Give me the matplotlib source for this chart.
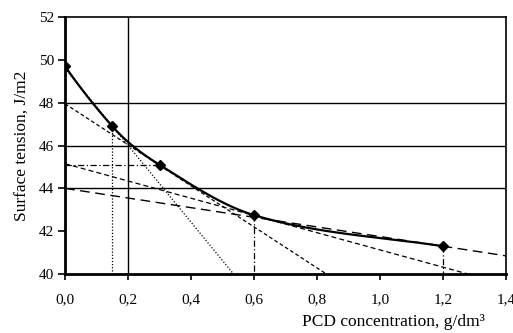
import numpy as np
import matplotlib
matplotlib.use("Agg")
import matplotlib.pyplot as plt

# --- data ---
conc = [0.0, 0.15, 0.30, 0.60, 1.20]          # g/dm3
tension = [49.7, 46.9, 45.1, 42.75, 41.3]     # J/m2
slopes = [-21.0, -16.5, -9.2, -4.4, -2.25]    # curve slope at each point (from tangents)

# tangent / construction lines: (x0, y0, x1, y1)
tan_015 = [0.0, 49.6, 0.535, 40.0]     # dotted
tan_030 = [0.0, 47.95, 0.83, 40.0]     # short dashed
tan_060 = [0.0, 45.15, 1.28, 40.0]     # dashed
tan_120 = [0.0, 44.0, 1.40, 40.85]     # long dashed
hline_030 = [0.0, 45.1, 0.30, 45.1]    # dash-dot horizontal
vline_015 = [0.15, 46.9, 0.15, 40.0]   # dotted vertical
vline_060 = [0.60, 42.75, 0.60, 40.0]  # dash-dot vertical
vline_120 = [1.20, 41.3, 1.20, 40.0]   # dash-dot vertical

xticks = [0.0, 0.2, 0.4, 0.6, 0.8, 1.0, 1.2, 1.4]
xticklabels = ["0,0", "0,2", "0,4", "0,6", "0,8", "1,0", "1,2", "1,4"]
yticks = [40, 42, 44, 46, 48, 50, 52]
hgrid = [44, 46, 48]
vgrid = [0.2]


def hermite(x, y, m, xs):
    x = np.asarray(x, float); y = np.asarray(y, float); m = np.asarray(m, float)
    h = np.diff(x)
    out = np.empty_like(xs)
    for i, xv in enumerate(xs):
        k = int(np.clip(np.searchsorted(x, xv, side="right") - 1, 0, len(x) - 2))
        t = (xv - x[k]) / h[k]
        h00 = 2*t**3 - 3*t**2 + 1; h10 = t**3 - 2*t**2 + t
        h01 = -2*t**3 + 3*t**2; h11 = t**3 - t**2
        out[i] = h00*y[k] + h10*h[k]*m[k] + h01*y[k+1] + h11*h[k]*m[k+1]
    return out


plt.rcParams["font.family"] = ["Liberation Serif", "DejaVu Serif"]

fig = plt.figure(figsize=(5.13, 3.33), dpi=100)
ax = fig.add_axes([0.1267, 0.177, 0.8597, 0.772])

for g in hgrid:
    ax.axhline(g, color="black", lw=1.0, zorder=1)
for g in vgrid:
    ax.axvline(g, color="black", lw=1.0, zorder=1)

def seg(s, **kw):
    ax.plot([s[0], s[2]], [s[1], s[3]], color="black", zorder=2, **kw)

seg(tan_015, lw=0.9, linestyle=(0, (1, 1.5)))
seg(tan_030, lw=0.9, linestyle=(0, (3, 2)))
seg(tan_060, lw=0.9, linestyle=(0, (4, 2.5)))
seg(tan_120, lw=1.0, linestyle=(0, (7, 4)))
seg(hline_030, lw=0.9, linestyle=(0, (5, 2, 1, 2)))
seg(vline_015, lw=0.9, linestyle=(0, (1, 1.5)))
seg(vline_060, lw=0.9, linestyle=(0, (5, 2, 1, 2)))
seg(vline_120, lw=0.9, linestyle=(0, (5, 2, 1, 2)))

xs = np.linspace(conc[0], conc[-1], 300)
ax.plot(xs, hermite(conc, tension, slopes, xs), color="black", lw=1.6, zorder=3)
ax.plot(conc, tension, linestyle="none", marker="D", ms=5, color="black", zorder=4)

ax.set_xlim(0, 1.4)
ax.set_ylim(40, 52)
ax.set_xticks(xticks)
ax.set_xticklabels(xticklabels)
ax.set_yticks(yticks)
ax.tick_params(axis="x", direction="out", length=4, width=1.2, pad=10, labelsize=11)
ax.tick_params(axis="y", direction="out", length=5, width=1.2, pad=3, labelsize=11)

for side in ["left", "bottom"]:
    ax.spines[side].set_linewidth(2.0)
for side in ["top", "right"]:
    ax.spines[side].set_linewidth(1.2)

ax.set_ylabel("Surface tension, J/m2", fontsize=12.5, labelpad=6)
fig.text(0.945, 0.022, "PCD concentration, g/dm³", fontsize=12.5, ha="right", va="baseline")

fig.savefig("out.png", dpi=100)
